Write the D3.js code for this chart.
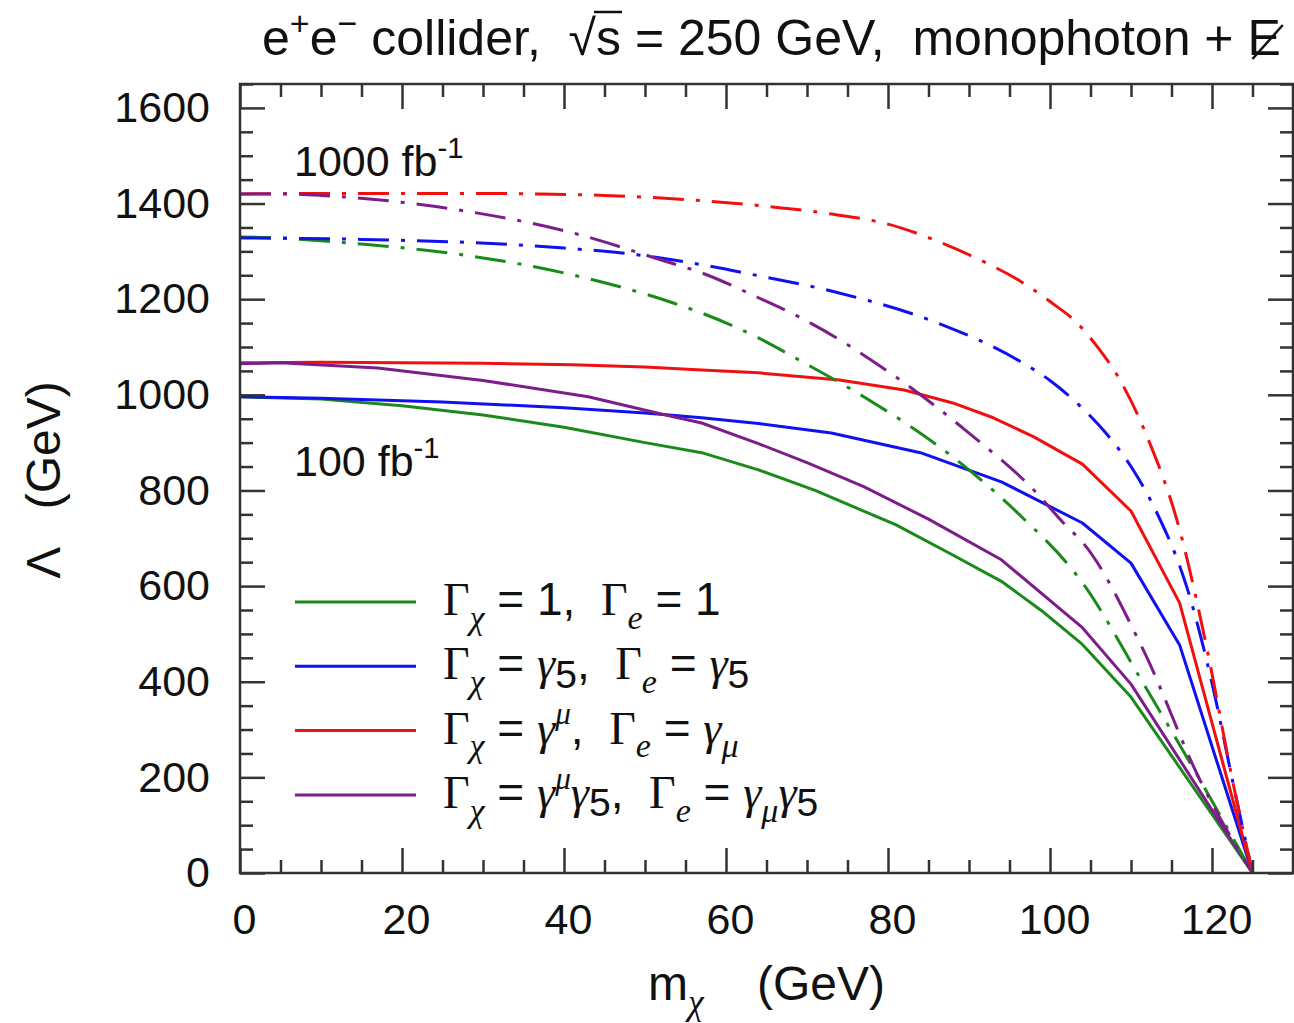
<!DOCTYPE html>
<html>
<head>
<meta charset="utf-8">
<script src="https://cdn.jsdelivr.net/npm/d3@7"></script>
<style>
  body { margin: 0; background: #fff; }
  text { font-family: "Liberation Sans", Arial, sans-serif; fill: #111; }
</style>
</head>
<body>
<svg id="chart" width="1294" height="1023"></svg>
<script>
// tick labels
const xTickValues = [0, 20, 40, 60, 80, 100, 120];
const yTickValues = [0, 200, 400, 600, 800, 1000, 1200, 1400, 1600];

// 100 fb^-1 (solid)
const mScalar100 = [0, 10, 20, 30, 40, 50, 57, 64, 71, 81, 88, 94, 99, 104, 110, 125];
const lScalar100 = [996, 991, 977, 958, 932, 900, 879, 843, 800, 728, 665, 610, 548, 478, 368, 0];
const mPseudo100 = [0, 10, 25, 40, 50, 57, 64, 73, 84, 94, 104, 110, 116, 125];
const lPseudo100 = [996, 993, 985, 973, 962, 952, 940, 920, 879, 818, 732, 648, 477, 0];
const mVector100 = [0, 10, 20, 30, 41, 50, 57, 64, 74, 82, 88, 93, 98, 104, 110, 116, 125];
const lVector100 = [1067, 1068, 1067, 1066, 1063, 1058, 1052, 1046, 1031, 1010, 983, 952, 912, 855, 757, 565, 0];
const mAxial100 = [0, 5, 17, 30, 43, 52, 57, 64, 70, 77, 85, 94, 104, 110, 125];
const lAxial100 = [1065, 1067, 1056, 1030, 996, 960, 941, 898, 858, 808, 740, 655, 513, 395, 0];

// 1000 fb^-1 (dash-dot)
const mScalar1000 = [0, 5, 10, 16, 29, 41, 53.5, 57, 64, 69, 77, 88, 96, 104, 111.5, 118.5, 125];
const lScalar1000 = [1330, 1328, 1322, 1314, 1289, 1251, 1192, 1171, 1119, 1073, 996, 870, 753, 607, 397, 195, 0];
const mPseudo1000 = [0, 15, 29, 40, 49, 57, 64, 73, 86, 96, 100, 104, 107, 110, 113, 117, 120, 122.6, 125];
const lPseudo1000 = [1328, 1325, 1318, 1307, 1293, 1272, 1249, 1217, 1151, 1073, 1030, 972, 918, 850, 760, 592, 397, 188, 0];
const mVector1000 = [0, 10, 20, 30, 37, 45, 51.5, 57, 64, 73, 80, 86, 91, 96, 100, 103.3, 106, 108.5, 112, 116, 119.4, 122.6, 125];
const lVector1000 = [1420, 1421, 1421, 1421, 1420, 1417, 1412, 1406, 1396, 1378, 1357, 1322, 1285, 1241, 1195, 1151, 1097, 1035, 912, 718, 467, 188, 0];
const mAxial1000 = [0, 5, 10, 17, 29, 41, 52, 57, 64, 69, 81.5, 90, 98, 102, 104, 111.5, 118.5, 125];
const lAxial1000 = [1420, 1420, 1417, 1408, 1381, 1339, 1282, 1255, 1203, 1163, 1031, 920, 801, 726, 692, 467, 195, 0];

const seriesColors = ["#1b8a1b", "#1010f0", "#f01010", "#7d1d8a"];

const svg = d3.select("#chart");
const margens = { left: 240, right: 1, top: 84, bottom: 150 };
const width = 1294, height = 1023;

const x = d3.scaleLinear().domain([0, 130]).range([margens.left, width - margens.right]);
const y = d3.scaleLinear().domain([0, 1650]).range([height - margens.bottom, margens.top]);

const curves = [
    { m: mScalar100, l: lScalar100, c: 0, dashed: false },
    { m: mPseudo100, l: lPseudo100, c: 1, dashed: false },
    { m: mVector100, l: lVector100, c: 2, dashed: false },
    { m: mAxial100, l: lAxial100, c: 3, dashed: false },
    { m: mScalar1000, l: lScalar1000, c: 0, dashed: true },
    { m: mPseudo1000, l: lPseudo1000, c: 1, dashed: true },
    { m: mVector1000, l: lVector1000, c: 2, dashed: true },
    { m: mAxial1000, l: lAxial1000, c: 3, dashed: true }
].map(d => ({ ...d, points: d.m.map((m, i) => [m, d.l[i]]) }));

const solidLine = d3.line()
    .x(d => x(d[0]))
    .y(d => y(d[1]));
const smoothLine = d3.line()
    .curve(d3.curveMonotoneX)
    .x(d => x(d[0]))
    .y(d => y(d[1]));

// curves
svg.append("g")
    .selectAll("path")
    .data(curves)
    .join("path")
    .attr("fill", "none")
    .attr("stroke", d => seriesColors[d.c])
    .attr("stroke-width", 3)
    .attr("stroke-linejoin", "round")
    .attr("stroke-dasharray", d => d.dashed ? "31,12,4,12" : null)
    .attr("d", d => d.dashed ? smoothLine(d.points) : solidLine(d.points));

// axes: ticks point inward on all four sides
const xMinor = d3.range(0, 131, 5).filter(v => v % 20 !== 0);
const yMinor = d3.range(0, 1651, 50).filter(v => v % 200 !== 0);

function styleAxis(g) {
    g.select(".domain").remove();
    g.selectAll(".tick line").attr("stroke", "#333").attr("stroke-width", 2.5);
    g.selectAll(".tick text").attr("font-size", "43px").attr("fill", "#111");
}

const plotBottom = y(0), plotTop = y(1650), plotLeft = x(0), plotRight = x(130);

svg.append("g").attr("transform", `translate(0, ${plotBottom})`)
    .call(d3.axisBottom(x).tickValues(xTickValues).tickSize(-25).tickPadding(30).tickFormat(d3.format("d")))
    .call(styleAxis)
    .call(g => g.selectAll(".tick text").attr("dx", 4));
svg.append("g").attr("transform", `translate(0, ${plotBottom})`)
    .call(d3.axisBottom(x).tickValues(xMinor).tickSize(-13).tickFormat(""))
    .call(styleAxis);
svg.append("g").attr("transform", `translate(0, ${plotTop})`)
    .call(d3.axisTop(x).tickValues(xTickValues).tickSize(-25).tickFormat(""))
    .call(styleAxis);
svg.append("g").attr("transform", `translate(0, ${plotTop})`)
    .call(d3.axisTop(x).tickValues(xMinor).tickSize(-13).tickFormat(""))
    .call(styleAxis);

svg.append("g").attr("transform", `translate(${plotLeft}, 0)`)
    .call(d3.axisLeft(y).tickValues(yTickValues).tickSize(-25).tickPadding(30).tickFormat(d3.format("d")))
    .call(styleAxis);
svg.append("g").attr("transform", `translate(${plotLeft}, 0)`)
    .call(d3.axisLeft(y).tickValues(yMinor).tickSize(-13).tickFormat(""))
    .call(styleAxis);
svg.append("g").attr("transform", `translate(${plotRight}, 0)`)
    .call(d3.axisRight(y).tickValues(yTickValues).tickSize(-25).tickFormat(""))
    .call(styleAxis);
svg.append("g").attr("transform", `translate(${plotRight}, 0)`)
    .call(d3.axisRight(y).tickValues(yMinor).tickSize(-13).tickFormat(""))
    .call(styleAxis);

svg.append("rect")
    .attr("x", plotLeft).attr("y", plotTop)
    .attr("width", plotRight - plotLeft).attr("height", plotBottom - plotTop)
    .attr("fill", "none").attr("stroke", "#333").attr("stroke-width", 2.5);

// rich text helper: parts = [text, kind] with kind among
// "", "serif", "it", "sub-it", "sup-it", "sub", "sup"
const SERIF = '"Liberation Serif", "Times New Roman", serif';
function richText(sel, parts, size) {
    let shift = 0;
    parts.forEach(([t, kind]) => {
        const ts = sel.append("tspan").text(t);
        let target = 0, fs = size;
        if (kind === "sub") { target = size * 0.18; fs = size * 0.85; }
        if (kind === "sub-it") { target = size * 0.3; fs = size * 0.74; }
        if (kind.startsWith("sup")) { target = -size * 0.42; fs = size * 0.68; }
        if (kind === "serif" || kind.endsWith("it")) ts.attr("font-family", SERIF);
        if (kind.endsWith("it")) ts.attr("font-style", "italic");
        ts.attr("font-size", fs + "px");
        if (target !== shift) { ts.attr("dy", target - shift); shift = target; }
    });
    return sel;
}

// title
const title = svg.append("text")
    .attr("x", 262).attr("y", 55)
    .attr("font-size", "50px")
    .style("white-space", "pre");
title.append("tspan").text("e");
title.append("tspan").attr("dy", -20).attr("font-size", "34px").text("+");
title.append("tspan").attr("dy", 20).text("e");
title.append("tspan").attr("dy", -20).attr("font-size", "34px").text("\u2212");
title.append("tspan").attr("dy", 20).text(" collider,  \u221A");
const sTspan = title.append("tspan").text("s");
title.append("tspan").text(" = 250 GeV,  monophoton + ");
const eTspan = title.append("tspan").text("E");

const sStart = sTspan.node().getStartPositionOfChar(0);
const sEnd = sTspan.node().getEndPositionOfChar(0);
svg.append("line")
    .attr("x1", sStart.x - 2).attr("x2", sEnd.x + 1)
    .attr("y1", 12).attr("y2", 12)
    .attr("stroke", "#111").attr("stroke-width", 2.5);
const eStart = eTspan.node().getStartPositionOfChar(0);
const eEnd = eTspan.node().getEndPositionOfChar(0);
svg.append("line")
    .attr("x1", eStart.x + 5).attr("y1", 59)
    .attr("x2", eEnd.x + 2).attr("y2", 25)
    .attr("stroke", "#111").attr("stroke-width", 2.5);

// luminosity labels
richText(svg.append("text").attr("x", 294).attr("y", 176),
    [["1000 fb", ""], ["-1", "sup"]], 43);
richText(svg.append("text").attr("x", 294).attr("y", 476),
    [["100 fb", ""], ["-1", "sup"]], 43);

// axis titles
richText(svg.append("text").attr("x", 648).attr("y", 1000).style("white-space", "pre"),
    [["m", ""], ["\u03C7", "sub-it"], ["    (GeV)", ""]], 48);
svg.append("text")
    .attr("transform", "translate(60, 480) rotate(-90)")
    .attr("text-anchor", "middle")
    .attr("font-size", "48px")
    .style("white-space", "pre")
    .text("\u039B   (GeV)");

// legend
const legendLabels = [
    [["\u0393", "serif"], ["\u03C7", "sub-it"], [" = 1,  ", ""], ["\u0393", "serif"], ["e", "sub-it"], [" = 1", ""]],
    [["\u0393", "serif"], ["\u03C7", "sub-it"], [" = ", ""], ["\u03B3", "it"], ["5", "sub"], [",  ", ""], ["\u0393", "serif"], ["e", "sub-it"], [" = ", ""], ["\u03B3", "it"], ["5", "sub"]],
    [["\u0393", "serif"], ["\u03C7", "sub-it"], [" = ", ""], ["\u03B3", "it"], ["\u03BC", "sup-it"], [",  ", ""], ["\u0393", "serif"], ["e", "sub-it"], [" = ", ""], ["\u03B3", "it"], ["\u03BC", "sub-it"]],
    [["\u0393", "serif"], ["\u03C7", "sub-it"], [" = ", ""], ["\u03B3", "it"], ["\u03BC", "sup-it"], ["\u03B3", "it"], ["5", "sub"], [",  ", ""], ["\u0393", "serif"], ["e", "sub-it"], [" = ", ""], ["\u03B3", "it"], ["\u03BC", "sub-it"], ["\u03B3", "it"], ["5", "sub"]]
];

const legend = svg.append("g").attr("transform", "translate(295, 602)");
const legendItems = legend.selectAll("g")
    .data(legendLabels)
    .join("g")
    .attr("transform", (d, i) => `translate(0, ${i * 64.3})`);

legendItems.append("line")
    .attr("x1", 0).attr("x2", 121)
    .attr("y1", 0).attr("y2", 0)
    .attr("stroke", (d, i) => seriesColors[i])
    .attr("stroke-width", 3);

legendItems.each(function (d) {
    richText(d3.select(this).append("text")
        .attr("x", 148).attr("y", 13)
        .style("white-space", "pre"), d, 46);
});
</script>
</body>
</html>
